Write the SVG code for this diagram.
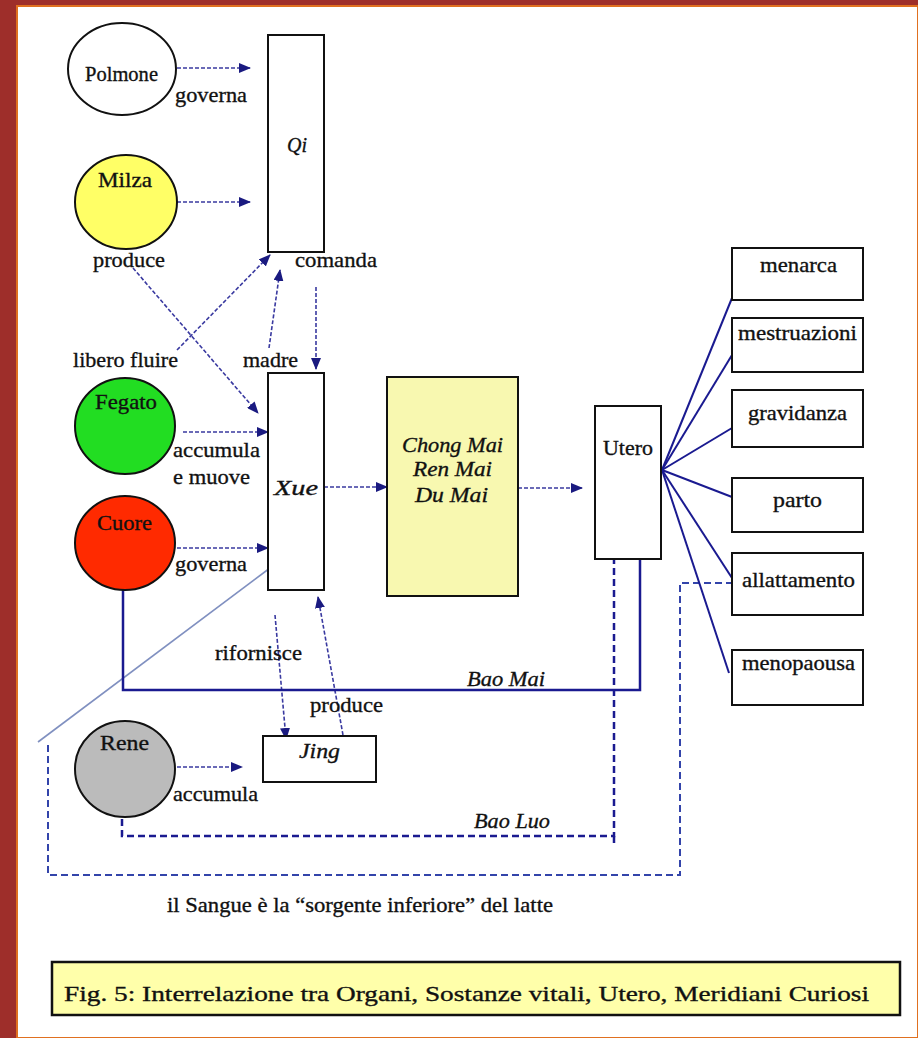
<svg xmlns="http://www.w3.org/2000/svg" width="918" height="1038" viewBox="0 0 918 1038">
<defs>
<marker id="ah" viewBox="0 0 12 10" refX="11" refY="5" markerWidth="12" markerHeight="10" markerUnits="userSpaceOnUse" orient="auto">
<path d="M0,0 L12,5 L0,10 Z" fill="#1a1a80"/>
</marker>
<style>
text{font-family:"Liberation Serif","Times New Roman",serif;font-size:22px;fill:#111;stroke:#111;stroke-width:0.35}
.it{font-style:italic}
.node{stroke:#111;stroke-width:2}
.arr{stroke:#3a3aa0;stroke-width:1.6;stroke-dasharray:4 2;fill:none;marker-end:url(#ah)}
.solid{stroke:#1a1a90;stroke-width:2.5;fill:none}
.dash{stroke:#1a1a90;stroke-width:2.5;stroke-dasharray:7 4;fill:none}
.dash2{stroke:#3344aa;stroke-width:2;stroke-dasharray:7 4;fill:none}
.fan{stroke:#1a1a90;stroke-width:2;fill:none}
</style>
</defs>
<rect x="0" y="0" width="918" height="1038" fill="#9e2e2a"/>
<rect x="17" y="6" width="901" height="1032" fill="#ffffff" stroke="#e07020" stroke-width="2"/>

<g id="connectors">
<line class="arr" x1="177" y1="68" x2="250" y2="68"/>
<line class="arr" x1="177" y1="202" x2="250" y2="202"/>
<line class="arr" x1="177" y1="350" x2="270" y2="255"/>
<line class="arr" x1="269" y1="348" x2="280" y2="270"/>
<line class="arr" x1="316" y1="287" x2="316" y2="369"/>
<line class="arr" x1="133" y1="268" x2="258" y2="413"/>
<line class="arr" x1="183" y1="432" x2="268" y2="432"/>
<line class="arr" x1="177" y1="548" x2="268" y2="548"/>
<line class="arr" x1="324" y1="487" x2="387" y2="487"/>
<line class="arr" x1="518" y1="488" x2="582" y2="488"/>
<line class="arr" x1="275" y1="615" x2="286" y2="739"/>
<line class="arr" x1="343" y1="735" x2="318" y2="597"/>
<line class="arr" x1="177" y1="767" x2="242" y2="767"/>
<line x1="270" y1="568" x2="38" y2="742" stroke="#8090c0" stroke-width="1.6"/>
<polyline class="solid" points="123,590 123,690 640,690 640,559"/>
<polyline class="dash" points="122,808 122,836 614,836 614,559"/>
<line class="dash" x1="614" y1="836" x2="614" y2="847"/>
<polyline class="dash2" points="48,745 48,875 680,875 680,583 735,583"/>
<line class="fan" x1="662" y1="470" x2="732" y2="298"/>
<line class="fan" x1="662" y1="470" x2="732" y2="355"/>
<line class="fan" x1="662" y1="470" x2="732" y2="428"/>
<line class="fan" x1="662" y1="470" x2="732" y2="497"/>
<line class="fan" x1="662" y1="470" x2="732" y2="578"/>
<line class="fan" x1="662" y1="470" x2="729" y2="673"/>
</g>

<g id="polmone"><ellipse class="node" cx="122" cy="69" rx="54" ry="46" fill="#ffffff"/><text x="85" y="81" font-size="19" textLength="73" lengthAdjust="spacingAndGlyphs">Polmone</text></g>
<g id="milza"><ellipse class="node" cx="126" cy="202" rx="51" ry="47" fill="#ffff66"/><text x="98" y="187" textLength="54" lengthAdjust="spacingAndGlyphs">Milza</text></g>
<g id="fegato"><ellipse class="node" cx="125" cy="426" rx="50" ry="48" fill="#22dd22"/><text x="95" y="409" textLength="62" lengthAdjust="spacingAndGlyphs">Fegato</text></g>
<g id="cuore"><ellipse class="node" cx="125" cy="543" rx="50" ry="47" fill="#ff2a00"/><text x="97" y="530" textLength="55" lengthAdjust="spacingAndGlyphs">Cuore</text></g>
<g id="rene"><ellipse class="node" cx="125" cy="769" rx="50" ry="48" fill="#bbbbbb"/><text x="100" y="750" textLength="49" lengthAdjust="spacingAndGlyphs">Rene</text></g>

<g id="qi"><rect class="node" x="268" y="35" width="56" height="217" fill="#ffffff"/><text class="it" x="287" y="152" textLength="20" lengthAdjust="spacingAndGlyphs">Qi</text></g>
<g id="xue"><rect class="node" x="268" y="373" width="56" height="217" fill="#ffffff"/><text class="it" x="274" y="495" textLength="44" lengthAdjust="spacingAndGlyphs">Xue</text></g>
<g id="jing"><rect class="node" x="263" y="736" width="113" height="46" fill="#ffffff"/><text class="it" x="299" y="758" textLength="41" lengthAdjust="spacingAndGlyphs">Jing</text></g>
<g id="meridiani"><rect class="node" x="387" y="377" width="131" height="219" fill="#f8f8b0"/>
<text class="it" x="402" y="452" textLength="101" lengthAdjust="spacingAndGlyphs">Chong Mai</text>
<text class="it" x="413" y="476" textLength="79" lengthAdjust="spacingAndGlyphs">Ren Mai</text>
<text class="it" x="415" y="502" textLength="73" lengthAdjust="spacingAndGlyphs">Du Mai</text></g>
<g id="utero"><rect class="node" x="595" y="406" width="66" height="153" fill="#ffffff"/><text x="603" y="455" textLength="50" lengthAdjust="spacingAndGlyphs">Utero</text></g>

<g id="menarca"><rect class="node" x="732" y="248" width="131" height="52" fill="#ffffff"/><text x="760" y="272" textLength="77" lengthAdjust="spacingAndGlyphs">menarca</text></g>
<g id="mestruazioni"><rect class="node" x="732" y="318" width="131" height="54" fill="#ffffff"/><text x="738" y="340" textLength="119" lengthAdjust="spacingAndGlyphs">mestruazioni</text></g>
<g id="gravidanza"><rect class="node" x="732" y="390" width="131" height="57" fill="#ffffff"/><text x="748" y="420" textLength="99" lengthAdjust="spacingAndGlyphs">gravidanza</text></g>
<g id="parto"><rect class="node" x="732" y="478" width="131" height="54" fill="#ffffff"/><text x="773" y="507" textLength="49" lengthAdjust="spacingAndGlyphs">parto</text></g>
<g id="allattamento"><rect class="node" x="732" y="553" width="131" height="62" fill="#ffffff"/><text x="742" y="587" textLength="113" lengthAdjust="spacingAndGlyphs">allattamento</text></g>
<g id="menopaousa"><rect class="node" x="732" y="650" width="131" height="55" fill="#ffffff"/><text x="742" y="670" textLength="113" lengthAdjust="spacingAndGlyphs">menopaousa</text></g>

<g id="labels">
<text x="175" y="102" textLength="72" lengthAdjust="spacingAndGlyphs">governa</text>
<text x="93" y="267" textLength="72" lengthAdjust="spacingAndGlyphs">produce</text>
<text x="295" y="267" textLength="82" lengthAdjust="spacingAndGlyphs">comanda</text>
<text x="73" y="367" textLength="105" lengthAdjust="spacingAndGlyphs">libero fluire</text>
<text x="243" y="367" textLength="55" lengthAdjust="spacingAndGlyphs">madre</text>
<text x="173" y="457" textLength="87" lengthAdjust="spacingAndGlyphs">accumula</text>
<text x="173" y="484" textLength="77" lengthAdjust="spacingAndGlyphs">e muove</text>
<text x="175" y="571" textLength="72" lengthAdjust="spacingAndGlyphs">governa</text>
<text x="215" y="660" textLength="87" lengthAdjust="spacingAndGlyphs">rifornisce</text>
<text x="310" y="712" textLength="73" lengthAdjust="spacingAndGlyphs">produce</text>
<text x="173" y="801" textLength="85" lengthAdjust="spacingAndGlyphs">accumula</text>
<text class="it" x="467" y="686" textLength="78" lengthAdjust="spacingAndGlyphs">Bao Mai</text>
<text class="it" x="474" y="828" textLength="76" lengthAdjust="spacingAndGlyphs">Bao Luo</text>
<text x="167" y="912" textLength="386" lengthAdjust="spacingAndGlyphs">il Sangue è la “sorgente inferiore” del latte</text>
</g>

<g id="caption"><rect x="52" y="962" width="848" height="53" fill="#ffffaa" stroke="#111" stroke-width="2.5"/>
<text x="64" y="1001" font-size="23" textLength="805" lengthAdjust="spacingAndGlyphs">Fig. 5: Interrelazione tra Organi, Sostanze vitali, Utero, Meridiani Curiosi</text></g>
</svg>
